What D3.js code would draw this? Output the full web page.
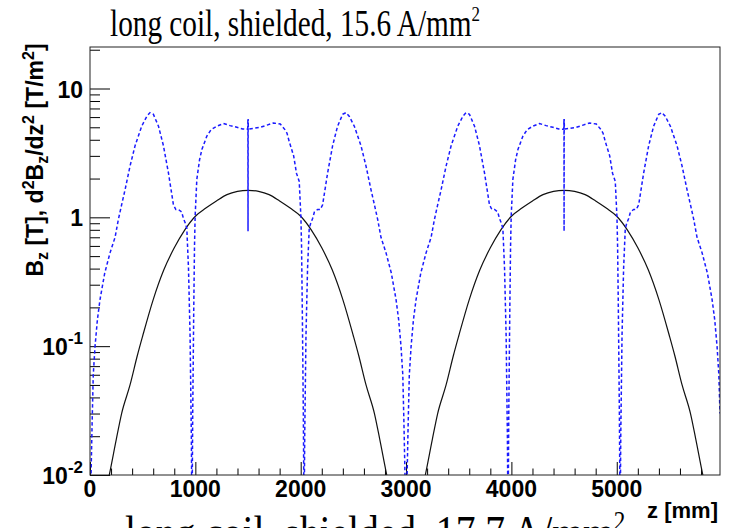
<!DOCTYPE html>
<html>
<head>
<meta charset="utf-8">
<script src="https://cdn.jsdelivr.net/npm/d3@7"></script>
<style>
  html, body { margin: 0; padding: 0; background: #fff; }
  #chart { width: 733px; height: 528px; }
  .tick-label { font-family: "Liberation Sans", Arial, sans-serif; font-weight: bold; font-size: 23px; fill: #000; }
  .axis-title { font-family: "Liberation Sans", Arial, sans-serif; font-weight: bold; fill: #000; }
  .title { font-family: "Liberation Serif", "Times New Roman", serif; fill: #000; }
</style>
</head>
<body>
<div id="chart"></div>
<script>
// Bz of the two coils (black, solid)
const zBz = [150, 183, 250, 300, 380, 450, 500, 600, 700, 800, 900, 1000, 1100, 1200, 1300, 1400, 1500,
  1600, 1700, 1800, 1900, 2000, 2100, 2200, 2300, 2400, 2500, 2550, 2620, 2700, 2750, 2817, 2850,
  3150, 3183, 3250, 3300, 3380, 3450, 3500, 3600, 3700, 3800, 3900, 4000, 4100, 4200, 4300, 4400, 4500,
  4600, 4700, 4800, 4900, 5000, 5100, 5200, 5300, 5400, 5500, 5550, 5620, 5700, 5750, 5817, 5850];
const bz = [0.0075, 0.01, 0.019, 0.03, 0.05, 0.085, 0.12, 0.23, 0.39, 0.58, 0.8, 1.02, 1.18, 1.34, 1.5, 1.59, 1.62,
  1.59, 1.5, 1.34, 1.18, 1.02, 0.8, 0.58, 0.39, 0.23, 0.12, 0.085, 0.05, 0.03, 0.019, 0.01, 0.0075,
  0.0075, 0.01, 0.019, 0.03, 0.05, 0.085, 0.12, 0.23, 0.39, 0.58, 0.8, 1.02, 1.18, 1.34, 1.5, 1.59, 1.62,
  1.59, 1.5, 1.34, 1.18, 1.02, 0.8, 0.58, 0.39, 0.23, 0.12, 0.085, 0.05, 0.03, 0.019, 0.01, 0.0075];

// |d2Bz/dz2| (blue, dashed)
const zD2 = [0, 10, 20, 31, 48, 70, 95, 140, 190, 238, 269, 300, 333, 380, 428, 491, 540, 570, 602, 650, 697, 745, 792,
  815, 840, 870, 887, 905, 919, 935, 950, 962, 968, 975, 985, 992, 998, 1014, 1040, 1062, 1109, 1150, 1204, 1267,
  1330, 1394, 1450, 1490, 1497, 1499, 1500, 1501, 1503, 1510, 1550, 1616, 1680, 1742, 1806, 1850, 1870, 1890, 1933,
  1960, 1986, 2002, 2008, 2015, 2025, 2032, 2038, 2050, 2065, 2081, 2095, 2113, 2130, 2160, 2185, 2208, 2255, 2303,
  2350, 2398, 2430, 2460, 2509, 2572, 2620, 2667, 2700, 2731, 2762, 2810, 2860, 2905, 2930, 2952, 2969, 2980, 2990,
  3000, 3010, 3020, 3031, 3048, 3070, 3095, 3140, 3190, 3238, 3269, 3300, 3333, 3380, 3428, 3491, 3540, 3570, 3602,
  3650, 3697, 3745, 3792, 3815, 3840, 3870, 3887, 3905, 3919, 3935, 3950, 3962, 3968, 3975, 3985, 3992, 3998, 4014,
  4040, 4062, 4109, 4150, 4204, 4267, 4330, 4394, 4450, 4490, 4497, 4499, 4500, 4501, 4503, 4510, 4550, 4616, 4680,
  4742, 4806, 4850, 4870, 4890, 4933, 4960, 4986, 5002, 5008, 5015, 5025, 5032, 5038, 5050, 5065, 5081, 5095, 5113,
  5130, 5160, 5185, 5208, 5255, 5303, 5350, 5398, 5430, 5460, 5509, 5572, 5620, 5667, 5700, 5731, 5762, 5810, 5860,
  5905, 5930, 5952, 5969, 5980];
const d2bz = [0.006, 0.01, 0.025, 0.06, 0.1, 0.16, 0.23, 0.37, 0.53, 0.7, 0.96, 1.25, 1.64, 2.5, 3.6, 5.1, 6.1, 6.5, 6.3, 5.1, 3.6, 2.2, 1.25,
  1.15, 1.15, 1.1, 0.98, 0.9, 0.82, 0.4, 0.12, 0.02, 0.004, 0.03, 0.2, 0.6, 1.02, 1.97, 2.8, 3.36, 4.27, 4.8, 5.1, 5.35,
  5.15, 5.0, 4.85, 4.82, 4.9, 5.8, 0.78, 5.8, 4.9, 4.85, 4.9, 5.0, 5.2, 5.4, 5.3, 4.8, 4.5, 3.9, 3.0,
  2.2, 1.9, 1.0, 0.6, 0.2, 0.03, 0.004, 0.02, 0.12, 0.4, 0.82, 0.9, 0.98, 1.1, 1.15, 1.15, 1.25, 2.2, 3.6,
  5.1, 6.3, 6.5, 6.1, 5.1, 3.6, 2.5, 1.64, 1.25, 0.96, 0.7, 0.53, 0.37, 0.23, 0.16, 0.1, 0.06, 0.025, 0.01,
  0.006, 0.01, 0.025, 0.06, 0.1, 0.16, 0.23, 0.37, 0.53, 0.7, 0.96, 1.25, 1.64, 2.5, 3.6, 5.1, 6.1, 6.5, 6.3,
  5.1, 3.6, 2.2, 1.25, 1.15, 1.15, 1.1, 0.98, 0.9, 0.82, 0.4, 0.12, 0.02, 0.004, 0.03, 0.2, 0.6, 1.02, 1.97,
  2.8, 3.36, 4.27, 4.8, 5.1, 5.35, 5.15, 5.0, 4.85, 4.82, 4.9, 5.8, 0.78, 5.8, 4.9, 4.85, 4.9, 5.0, 5.2,
  5.4, 5.3, 4.8, 4.5, 3.9, 3.0, 2.2, 1.9, 1.0, 0.6, 0.2, 0.03, 0.004, 0.02, 0.12, 0.4, 0.82, 0.9, 0.98,
  1.1, 1.15, 1.15, 1.25, 2.2, 3.6, 5.1, 6.3, 6.5, 6.1, 5.1, 3.6, 2.5, 1.64, 1.25, 0.96, 0.7, 0.53, 0.37,
  0.23, 0.16, 0.1, 0.06, 0.03];

const xTicks = [0, 1000, 2000, 3000, 4000, 5000];
const yTicks = [0.01, 0.1, 1, 10];
const yTickLabels = [["10", "-2"], ["10", "-1"], ["1", ""], ["10", ""]];

const width = 733, height = 528;
const margin = { top: 47, right: 13, bottom: 53, left: 90 };

const svg = d3.select("#chart").append("svg")
  .attr("width", width)
  .attr("height", height);

const x = d3.scaleLinear().domain([0, 5980]).range([margin.left, width - margin.right]);
const y = d3.scaleLog().domain([0.01, 21]).range([height - margin.bottom, margin.top]);

const x0 = x.range()[0], x1 = x.range()[1];
const y0 = y.range()[0], y1 = y.range()[1];

svg.append("clipPath").attr("id", "frame-clip")
  .append("rect")
  .attr("x", x0).attr("y", y1)
  .attr("width", x1 - x0).attr("height", y0 - y1);

// x axis ticks (pointing inwards)
const xMinor = d3.range(0, 5980, 200).filter(v => v % 1000 !== 0);
svg.append("g")
  .attr("transform", `translate(0,${y0})`)
  .call(d3.axisBottom(x).tickValues(xMinor).tickSize(-6.5).tickFormat(""))
  .call(g => g.select(".domain").remove());
svg.append("g")
  .attr("transform", `translate(0,${y0})`)
  .call(d3.axisBottom(x).tickValues(xTicks).tickSize(-13).tickFormat(""))
  .call(g => g.select(".domain").remove());

// y axis ticks (log, pointing inwards)
const yMinor = [];
[0.01, 0.1, 1, 10].forEach(dec => {
  for (let k = 2; k <= 9; k++) if (dec * k <= 21) yMinor.push(dec * k);
});
svg.append("g")
  .attr("transform", `translate(${x0},0)`)
  .call(d3.axisLeft(y).tickValues(yMinor).tickSize(-10).tickFormat(""))
  .call(g => g.select(".domain").remove());
svg.append("g")
  .attr("transform", `translate(${x0},0)`)
  .call(d3.axisLeft(y).tickValues(yTicks).tickSize(-20).tickFormat(""))
  .call(g => g.select(".domain").remove());

svg.selectAll(".tick line").attr("stroke", "#000").attr("stroke-width", 1);

// curves
const plot = svg.append("g").attr("clip-path", "url(#frame-clip)");

plot.append("path")
  .datum(zBz.map((z, i) => [z, bz[i]]))
  .attr("fill", "none")
  .attr("stroke", "#111")
  .attr("stroke-width", 1.2)
  .attr("d", d3.line().x(d => x(d[0])).y(d => y(d[1])).curve(d3.curveMonotoneX));

plot.append("path")
  .datum(zD2.map((z, i) => [z, d2bz[i]]))
  .attr("fill", "none")
  .attr("stroke", "#1a1aff")
  .attr("stroke-width", 1.5)
  .attr("stroke-dasharray", "3.5,2.5")
  .attr("d", d3.line().x(d => x(d[0])).y(d => y(d[1])));

// frame
svg.append("rect")
  .attr("x", x0).attr("y", y1)
  .attr("width", x1 - x0).attr("height", y0 - y1)
  .attr("fill", "none")
  .attr("stroke", "#222")
  .attr("stroke-width", 1);

// x tick labels
svg.selectAll(".xlab").data(xTicks).enter().append("text")
  .attr("class", "tick-label")
  .attr("x", d => x(d))
  .attr("y", 497)
  .attr("text-anchor", "middle")
  .text(d => d);

// y tick labels with exponents
yTicks.forEach((v, i) => {
  const t = svg.append("text")
    .attr("class", "tick-label")
    .attr("font-size", 24)
    .attr("x", 83)
    .attr("y", y(v) + 9)
    .attr("text-anchor", "end");
  t.append("tspan").text(yTickLabels[i][0]);
  if (yTickLabels[i][1]) {
    t.append("tspan").attr("font-size", 17).attr("dy", -11).text(yTickLabels[i][1]);
  }
});

// axis titles
svg.append("text")
  .attr("class", "axis-title")
  .attr("font-size", 22)
  .attr("x", 718)
  .attr("y", 518)
  .attr("text-anchor", "end")
  .text("z [mm]");

const yt = svg.append("text")
  .attr("class", "axis-title")
  .attr("font-size", 23)
  .attr("text-anchor", "middle")
  .attr("transform", "translate(43,160) rotate(-90)");
yt.append("tspan").text("B");
yt.append("tspan").attr("font-size", 16).attr("dy", 5).text("z");
yt.append("tspan").attr("dy", -5).text(" [T], d");
yt.append("tspan").attr("font-size", 16).attr("dy", -9).text("2");
yt.append("tspan").attr("dy", 9).text("B");
yt.append("tspan").attr("font-size", 16).attr("dy", 5).text("z");
yt.append("tspan").attr("dy", -5).text("/dz");
yt.append("tspan").attr("font-size", 16).attr("dy", -9).text("2");
yt.append("tspan").attr("dy", 9).text(" [T/m");
yt.append("tspan").attr("font-size", 16).attr("dy", -9).text("2");
yt.append("tspan").attr("dy", 9).text("]");

// titles (this panel and the top of the next one)
const title = svg.append("text")
  .attr("class", "title")
  .attr("font-size", 38)
  .attr("transform", "translate(110,36) scale(0.77,1)");
title.append("tspan").text("long coil, shielded, 15.6 A/mm");
title.append("tspan").attr("font-size", 22).attr("dy", -15).text("2");

const next = svg.append("text")
  .attr("class", "title")
  .attr("font-size", 46)
  .attr("transform", "translate(125,548) scale(0.86,1)");
next.append("tspan").text("long coil, shielded, 17.7 A/mm");
next.append("tspan").attr("font-size", 27).attr("dy", -18).text("2");
</script>
</body>
</html>
